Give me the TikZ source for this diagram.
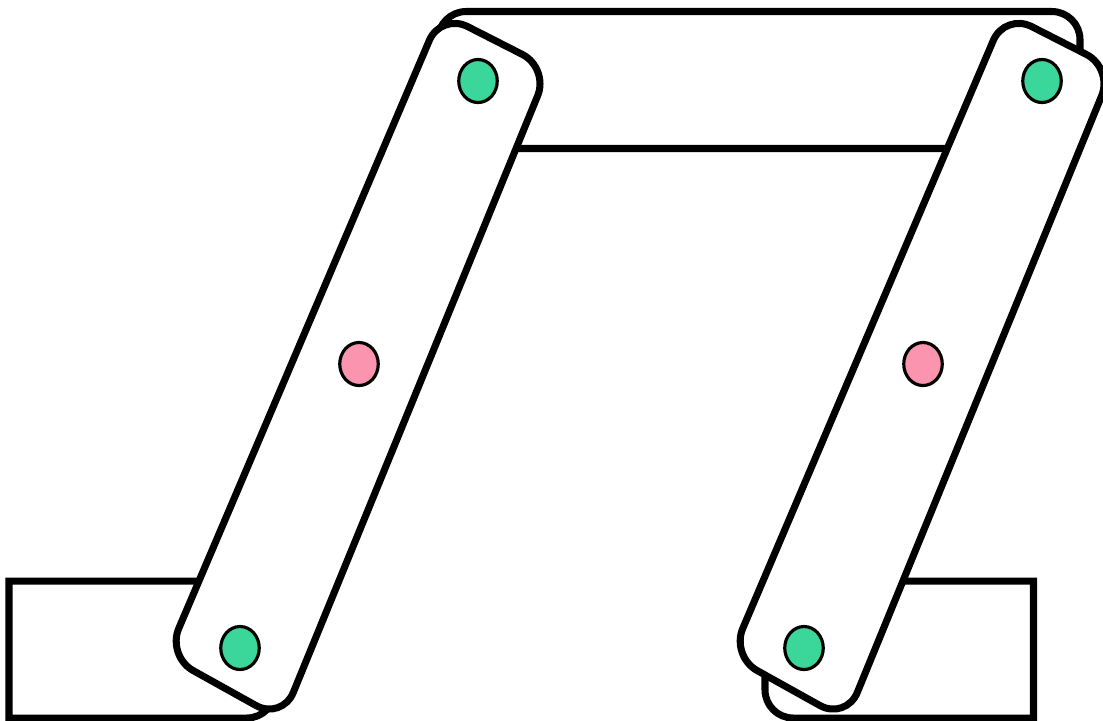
\documentclass[tikz,border=0pt]{standalone}
\usepackage{xcolor}
\usepackage{tikz}
\usetikzlibrary{shapes.geometric}
\definecolor{jointgreen}{HTML}{3AD69A}
\definecolor{jointpink}{HTML}{FB94AE}
\tikzset{
  bar/.style={line width=2pt, draw=black, fill=white, line join=miter},
  link/.style={bar, rounded corners=8.5pt},
  joint/.style={ellipse, draw=black, line width=0.9pt, minimum width=0.385cm, minimum height=0.43cm, inner sep=0pt}
}
\begin{document}
\begin{tikzpicture}[x=0.01cm,y=-0.01cm]
        \useasboundingbox (0,0) rectangle (1103,720);
        % Top bar, rounded on its upper corners (its lower right end stays behind the link)
        \draw[bar] (438,148.5) [rounded corners=8pt] -- (438,11.5) -- (1080,11.5) [sharp corners] -- (1080,100) -- (1050,148.5) -- cycle;
        % Two bases at the bottom
        \draw[bar] (9,581) -- (275,581) [rounded corners=8pt] -- (275,718) [sharp corners] -- (9,718) -- cycle;
        \draw[bar] (1033.5,581) -- (765,581) [rounded corners=8pt] -- (765,718) [sharp corners] -- (1033.5,718) -- cycle;
        % Slanted links
        \draw[link] (441,13) -- (549,68) -- (282,720) -- (167,656) -- cycle;
        \draw[link] (1005,13) -- (1113,68) -- (846,720) -- (731,656) -- cycle;
        % Joints on the left link
        \node[joint, fill=jointgreen] (topleft) at (478,81) {};
        \node[joint, fill=jointpink] (midleft) at (359,364) {};
        \node[joint, fill=jointgreen] (lowleft) at (240,648) {};
        % Joints on the right link
        \node[joint, fill=jointgreen] (topright) at (1042,81) {};
        \node[joint, fill=jointpink] (midright) at (923,364) {};
        \node[joint, fill=jointgreen] (lowright) at (804,648) {};
    \end{tikzpicture}
\end{document}
